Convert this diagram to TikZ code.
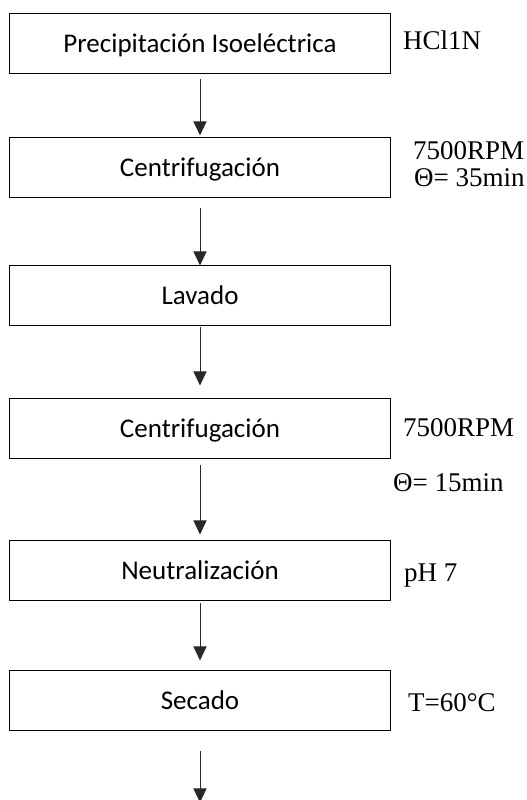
\documentclass[tikz,border=0pt]{standalone}
\usepackage{fontspec}
\setmainfont{Liberation Serif}
\setsansfont{Carlito}
\usepackage{tikz}
\usetikzlibrary{arrows.meta,positioning,calc}
\definecolor{cline}{RGB}{40,40,40}

\begin{document}
\begin{tikzpicture}[
    x=1pt, y=1pt,
    >={Triangle[width=13pt,length=14pt]},
    stage/.style={
        rectangle,
        draw=black,
        line width=1pt,
        minimum width=381pt,
        minimum height=60pt,
        inner sep=0pt,
        text height=20pt,
        text depth=2.6pt,
        align=center,
        font=\sffamily\fontsize{27}{32}\selectfont
    },
    cond/.style={
        anchor=base west,
        inner sep=0pt,
        font=\rmfamily\fontsize{27}{32}\selectfont
    },
    arr/.style={
        ->,
        line width=1pt,
        draw=cline
    }
]
\useasboundingbox (0,0) rectangle (527,800);

% Process stages
\node[stage] (precip) at (200,756) {Precipitación Isoeléctrica};
\node[stage, below=63pt of precip] (centri1) {Centrifugación};
\node[stage, below=67pt of centri1] (lavado) {Lavado};
\node[stage, below=72pt of lavado] (centri2) {Centrifugación};
\node[stage, below=81pt of centri2] (neutral) {Neutralización};
\node[stage, below=69pt of neutral] (secado) {Secado};
\coordinate (salida) at ($(secado.south)+(0,-71)$);

% Operating conditions
\node[cond] (hcl) at ($(precip.east)+(12,-6)$) {HCl1N};
\node[cond] (rpm1) at ($(centri1.east)+(22,8)$) {7500RPM};
\node[cond] (t1) at ($(centri1.east)+(23,-19)$) {Θ= 35min};
\node[cond] (rpm2) at ($(centri2.east)+(12,-8)$) {7500RPM};
\node[cond] (t2) at ($(centri2.east)+(2,-63)$) {Θ= 15min};
\node[cond] (ph) at ($(neutral.east)+(13,-11)$) {pH 7};
\node[cond] (temp) at ($(secado.east)+(17,-10.5)$) {T=60°C};

% Flow arrows
\draw[arr, shorten <=5pt, shorten >=2pt] (precip) -- (centri1);
\draw[arr, shorten <=10pt] (centri1) -- (lavado);
\draw[arr, shorten <=1pt, shorten >=13pt] (lavado) -- (centri2);
\draw[arr, shorten <=6pt, shorten >=6pt] (centri2) -- (neutral);
\draw[arr, shorten <=2pt, shorten >=10pt] (neutral) -- (secado);
\draw[arr, shorten <=20pt] (secado) -- (salida);

\end{tikzpicture}
\end{document}
